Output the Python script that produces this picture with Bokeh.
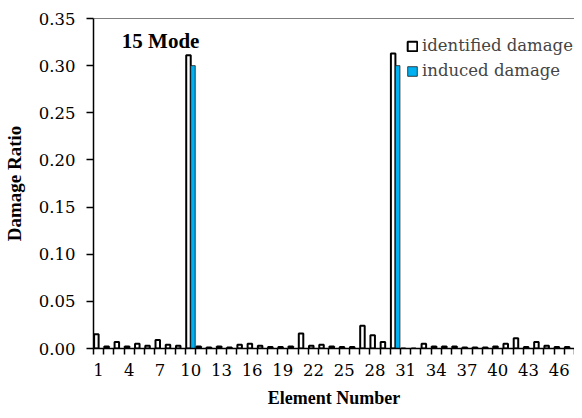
from bokeh.plotting import figure
from bokeh.models import (FixedTicker, Label, Legend, LegendItem, Span,
                          ColumnDataSource, NumeralTickFormatter)
from bokeh.transform import dodge
from bokeh.embed import file_html
from bokeh.resources import INLINE

elements = list(range(1, 48))
identified = [0.015, 0.002, 0.007, 0.002, 0.005, 0.003, 0.009, 0.004, 0.003, 0.311,
              0.002, 0.001, 0.002, 0.001, 0.004, 0.005, 0.003, 0.0015, 0.0015, 0.002,
              0.016, 0.003, 0.004, 0.002, 0.0015, 0.0015, 0.024, 0.014, 0.007, 0.313,
              0.0, 0.0, 0.005, 0.002, 0.002, 0.002, 0.001, 0.001, 0.001, 0.002,
              0.005, 0.011, 0.0015, 0.007, 0.003, 0.0015, 0.0015]
induced = [0.30 if e in (10, 30) else 0.0 for e in elements]
x_tick_labels = list(range(1, 48, 3))
y_ticks = [0.0, 0.05, 0.10, 0.15, 0.20, 0.25, 0.30, 0.35]

FONT = "Liberation Serif"
TICK_FONT = "DejaVu Serif"

p = figure(width=574, height=410, x_range=(0.5, 47.5), y_range=(0, 0.35),
           output_backend="svg", toolbar_location=None,
           min_border_left=91, min_border_right=0, min_border_top=18, min_border_bottom=10)
p.xgrid.visible = False
p.ygrid.visible = False
p.outline_line_color = None
p.background_fill_color = "white"
p.border_fill_color = "white"

src = ColumnDataSource(dict(x=elements, ident=identified, ind=induced))
r1 = p.vbar(x=dodge("x", -0.22, range=p.x_range), top="ident", width=0.44, source=src,
            fill_color="white", line_color="black", line_width=2)
r2 = p.vbar(x=dodge("x", 0.22, range=p.x_range), top="ind", width=0.44, source=src,
            fill_color="#00B0F0", line_color="#1a1a1a", line_width=0.8)

p.add_layout(Span(location=0.35, dimension="width", line_color="black", line_width=1))

xt = FixedTicker(ticks=x_tick_labels, minor_ticks=[i + 0.5 for i in range(0, 48)])
p.xaxis.ticker = xt
p.xaxis.major_tick_line_color = None
p.xaxis.minor_tick_line_color = "black"
p.xaxis.minor_tick_line_width = 1.5
p.xaxis.minor_tick_out = 6
p.xaxis.minor_tick_in = 0
p.xaxis.axis_line_color = "black"
p.xaxis.axis_line_width = 1.5
p.xaxis.major_label_text_font = TICK_FONT
p.xaxis.major_label_text_font_size = "16.5px"
p.xaxis.major_label_text_color = "black"
p.xaxis.major_label_standoff = 9
p.xaxis.axis_label = "Element Number"
p.xaxis.axis_label_text_font = FONT
p.xaxis.axis_label_text_font_style = "bold"
p.xaxis.axis_label_text_font_size = "18px"
p.xaxis.axis_label_text_color = "black"
p.xaxis.axis_label_standoff = 9

p.yaxis.ticker = FixedTicker(ticks=y_ticks)
p.yaxis.formatter = NumeralTickFormatter(format="0.00")
p.yaxis.minor_tick_line_color = None
p.yaxis.major_tick_line_color = "black"
p.yaxis.major_tick_line_width = 1.5
p.yaxis.major_tick_out = 7
p.yaxis.major_tick_in = 0
p.yaxis.axis_line_color = "black"
p.yaxis.axis_line_width = 1.5
p.yaxis.major_label_text_font = TICK_FONT
p.yaxis.major_label_text_font_size = "16.5px"
p.yaxis.major_label_text_color = "black"
p.yaxis.major_label_standoff = 11
p.yaxis.axis_label = "Damage Ratio"
p.yaxis.axis_label_text_font = FONT
p.yaxis.axis_label_text_font_style = "bold"
p.yaxis.axis_label_text_font_size = "19px"
p.yaxis.axis_label_text_color = "black"
p.yaxis.axis_label_standoff = 11

p.add_layout(Label(x=3.27, y=0.313, text="15 Mode", text_font=FONT,
                   text_font_style="bold", text_font_size="21px", text_color="black"))

legend = Legend(items=[LegendItem(label="identified damage", renderers=[r1]),
                       LegendItem(label="induced damage", renderers=[r2])],
                location=(313, 268), padding=0, margin=0, spacing=6,
                glyph_width=12, glyph_height=12, label_standoff=4,
                label_text_font=TICK_FONT, label_text_font_size="16.5px",
                border_line_color=None, background_fill_alpha=0)
p.add_layout(legend, "center")

open("out.html", "w").write(file_html(p, INLINE))
